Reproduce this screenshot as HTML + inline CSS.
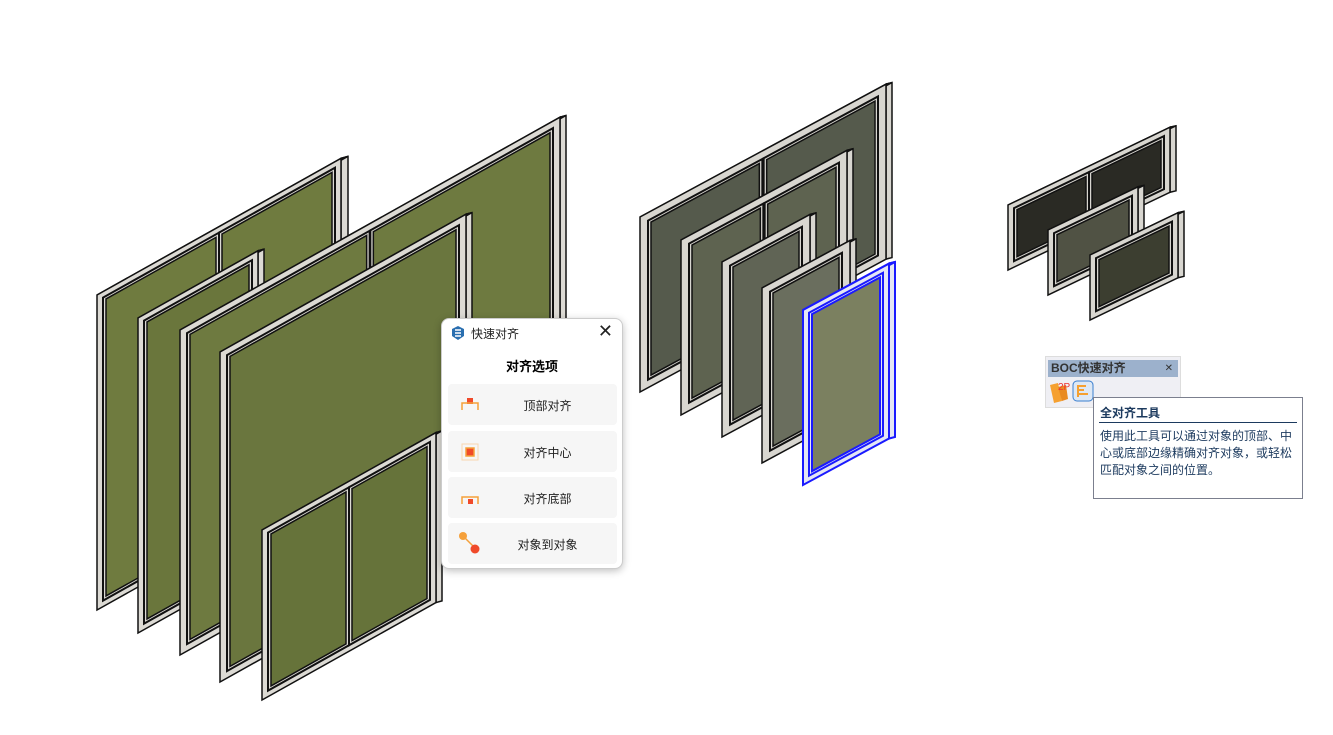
<!DOCTYPE html>
<html><head><meta charset="utf-8"><style>
body{margin:0;width:1333px;height:735px;background:#fff;position:relative;overflow:hidden;font-family:"Liberation Sans","Noto Sans CJK SC",sans-serif}
svg{position:absolute;left:0;top:0}
.dlg{position:absolute;left:441px;top:318px;width:180px;height:249px;background:#fff;border:1px solid #ccc;border-radius:8px;box-shadow:0 2px 8px rgba(0,0,0,.25)}
.dlg .t{position:absolute;left:29px;top:6px;font-size:12px;color:#222}
.dlg .x{position:absolute;right:9px;top:2px;font-size:18px;color:#222}
.dlg .h{position:absolute;left:0;width:180px;top:37px;text-align:center;font-size:13px;font-weight:bold}
.btn{position:absolute;left:6px;width:169px;height:41px;background:#f6f6f6;border-radius:4px;font-size:12px;color:#222}
.btn span{position:absolute;left:0;width:100%;text-align:center;top:13px;padding-left:30px;box-sizing:border-box}
.boc{position:absolute;left:1045px;top:356px;width:134px;height:50px;background:#efeff4;border:1px solid #ddd}
.boc .bar{position:absolute;left:2px;top:3px;width:130px;height:17px;background:#9cb1cc;font-size:12px;font-weight:bold;color:#333;line-height:17px;padding-left:3px;box-sizing:border-box}
.tip{position:absolute;left:1093px;top:397px;width:208px;height:100px;background:#fff;border:1px solid #7b7f8e;color:#1c3a5e}
.tip b{position:absolute;left:6px;top:6px;font-size:12px}
.tip .ln{position:absolute;left:5px;right:5px;top:24px;border-top:1px solid #1c3a5e}
.tip p{position:absolute;left:6px;top:30px;margin:0;width:194px;font-size:12px;line-height:17px}
</style></head><body>
<svg id="s" width="1333" height="735"></svg>
<div class="dlg">
 <svg width="16" height="16" style="left:8px;top:6px"><path d="M2 4 L8 1 L14 4 L14 11 L8 15 L2 11Z" fill="#2a6fb0"/><path d="M5 5 L11 5 M5 8 L11 8 M5 11 L11 11" stroke="#fff" stroke-width="1.5"/></svg>
 <div class="t">快速对齐</div><div class="x">✕</div>
 <div class="h">对齐选项</div>
 <div class="btn" style="top:65px"><svg width="20" height="20" style="left:12px;top:11px"><rect x="7" y="3" width="6" height="6" fill="#f04a2a"/><path d="M2 15 V8 H18 V15" fill="none" stroke="#f5a03a" stroke-width="1.5"/></svg><span>顶部对齐</span></div>
 <div class="btn" style="top:112px"><svg width="20" height="20" style="left:12px;top:11px"><rect x="2" y="2" width="16" height="16" fill="none" stroke="#f8d6b0"/><rect x="6" y="6" width="8" height="8" fill="#f04a2a" stroke="#f5a03a" stroke-width="1.5"/></svg><span>对齐中心</span></div>
 <div class="btn" style="top:158px"><svg width="20" height="20" style="left:12px;top:11px"><path d="M2 16 V9 H18 V16" fill="none" stroke="#f5a03a" stroke-width="1.5"/><rect x="8" y="11" width="5" height="5" fill="#f04a2a"/></svg><span>对齐底部</span></div>
 <div class="btn" style="top:204px"><svg width="24" height="24" style="left:10px;top:8px"><line x1="5" y1="5" x2="17" y2="17" stroke="#f5a03a" stroke-width="1.5"/><circle cx="5" cy="5" r="4" fill="#f5a03a"/><circle cx="17" cy="18" r="4.5" fill="#f04a2a"/></svg><span>对象到对象</span></div>
</div>
<div class="boc"><div class="bar">BOC快速对齐<span style="position:absolute;right:5px;font-weight:normal;font-size:10px">✕</span></div>
 <svg width="50" height="26" style="position:absolute;left:2px;top:22px"><path d="M2 6 L10 4 L14 22 L6 24Z" fill="#f5a030"/><path d="M10 8 L18 6 L20 20 L14 22Z" fill="#e98a20"/><text x="10" y="11" font-size="10" fill="#e33" font-family="Liberation Sans">2P</text><rect x="25" y="2" width="20" height="20" rx="4" fill="#dde8f5" stroke="#3a7fcf"/><path d="M30 6 V18 M30 7 H38 M30 11 H36 M30 15 H40" stroke="#f5a030" stroke-width="2"/></svg>
</div>
<div class="tip"><b>全对齐工具</b><div class="ln"></div><p>使用此工具可以通过对象的顶部、中心或底部边缘精确对齐对象，或轻松匹配对象之间的位置。</p></div>
<script>
var s=document.getElementById('s'),o='';
function P(pts,f,st,w){return '<polygon points="'+pts.map(p=>p.join(',')).join(' ')+'" fill="'+f+'" stroke="'+(st||'#111')+'" stroke-width="'+(w||1)+'"/>';}
function pan(L,T,W,H,k,fr,gl,st,d,fw,mul,sw){
 var q=(x,y)=>[L+x,T-k*x+y];sw=sw||1.5;
 o+=P([q(W,0),[L+W+d,T-k*W-d*k*0.5],[L+W+d,T-k*W+H-d*k*0.5],q(W,H)],fr,st,sw);
 o+=P([q(0,0),[L+d,T-d*k*0.5],[L+W+d,T-k*W-d*k*0.5],q(W,0)],fr,st,sw);
 o+=P([q(0,0),q(W,0),q(W,H),q(0,H)],fr,st,sw);
 var n=mul||1,gw=(W-2*fw)/n;
 for(var i=0;i<n;i++){var a=fw+i*gw+(i?fw/3:0),b=fw+(i+1)*gw-(i<n-1?fw/3:0);
  o+=P([q(a-3,fw-3),q(b+3,fw-3),q(b+3,H-fw+3),q(a-3,H-fw+3)],'none',st,2);
  o+=P([q(a,fw),q(b,fw),q(b,H-fw),q(a,H-fw)],gl,st,sw);}
}
pan(97,295,244,315,0.56,'#dcdad4','#6f7b3f','#111',7,9,2);
pan(138,318,120,315,0.56,'#dcdad4','#6a763c','#111',6,9,1);
pan(180,330,380,325,0.56,'#dcdad4','#6e7a40','#111',6,10,2);
pan(220,352,246,330,0.56,'#dcdad4','#6a763e','#111',6,10,1);
pan(262,530,174,170,0.56,'#dcdad4','#66733a','#111',6,9,2);
pan(640,217,246,175,0.54,'#d8d6d0','#555a4c','#111',6,11,2);
pan(681,240,166,175,0.54,'#d8d6d0','#5e6350','#111',6,11,2);
pan(722,262,88,175,0.54,'#d8d6d0','#606455','#111',6,11,1);
pan(762,288,88,175,0.54,'#d8d6d0','#6a6e5e','#111',6,11,1);
pan(803,310,86,175,0.54,'#e4e6f4','#7b8060','#1a1aff',6,9,1,2);
pan(1008,205,162,65,0.48,'#d8d6d0','#2a2a24','#111',6,9,2);
pan(1048,230,90,65,0.48,'#d8d6d0','#505244','#111',6,9,1);
pan(1090,255,88,65,0.48,'#d8d6d0','#3c3e30','#111',6,9,1);
s.innerHTML=o;
</script>
</body></html>
